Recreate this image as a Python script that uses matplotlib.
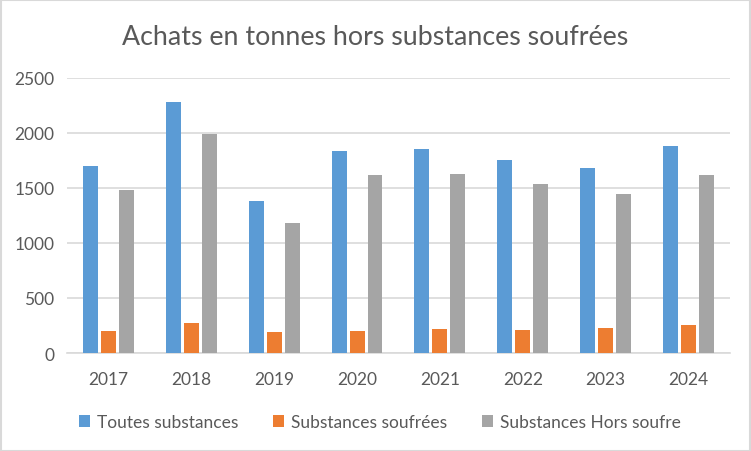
import numpy as np
import matplotlib
matplotlib.use("Agg")
import matplotlib.pyplot as plt
from matplotlib.patches import Rectangle

# --- Data ---
years = ["2017", "2018", "2019", "2020", "2021", "2022", "2023", "2024"]
toutes = [1700, 2280, 1380, 1835, 1850, 1750, 1680, 1880]
soufrees = [202, 275, 193, 202, 220, 211, 230, 257]
hors_soufre = [1480, 1990, 1183, 1616, 1625, 1535, 1445, 1616]

series_names = ["Toutes substances", "Substances soufrées", "Substances Hors soufre"]
colors = ["#5B9BD5", "#ED7D31", "#A5A5A5"]

plt.rcParams['font.family'] = ['Lato', 'DejaVu Sans']

fig = plt.figure(figsize=(7.51, 4.52), dpi=100)
ax = fig.add_axes([0.0892, 0.2168, 0.8828, 0.6095])

x = np.arange(len(years))
width = 0.18
step = 0.217
for i, (vals, name, col) in enumerate(zip([toutes, soufrees, hors_soufre], series_names, colors)):
    ax.bar(x + (i - 1) * step, vals, width, color=col, label=name, zorder=3)

ax.set_xlim(-0.5, len(years) - 0.5)
ax.set_ylim(0, 2500)
ax.set_yticks(range(0, 2501, 500))
ax.set_xticks(x)
ax.set_xticklabels(years)
ax.grid(axis='y', color='#D9D9D9', linewidth=1.2, zorder=0)
for s in ['top', 'right', 'left']:
    ax.spines[s].set_visible(False)
ax.spines['bottom'].set_color('#D9D9D9')
ax.spines['bottom'].set_linewidth(1.2)
ax.tick_params(length=0, labelsize=12.5, colors='#595959')
ax.tick_params(axis='x', pad=13)
ax.tick_params(axis='y', pad=9)

fig.text(0.5, 0.917, "Achats en tonnes hors substances soufrées", ha='center', va='center',
         fontsize=19.3, color='#595959')

ax.legend(loc='upper center', bbox_to_anchor=(0.472, -0.165), ncol=3, frameon=False,
          fontsize=12.5, labelcolor='#595959', handlelength=0.65, handleheight=0.65,
          handletextpad=0.4, columnspacing=2.0)

# light border around the chart
fig.patches.append(Rectangle((0.001, 0.001), 0.998, 0.997, transform=fig.transFigure,
                             fill=False, edgecolor='#D9D9D9', linewidth=1.5))

fig.savefig("out.png", dpi=100)
